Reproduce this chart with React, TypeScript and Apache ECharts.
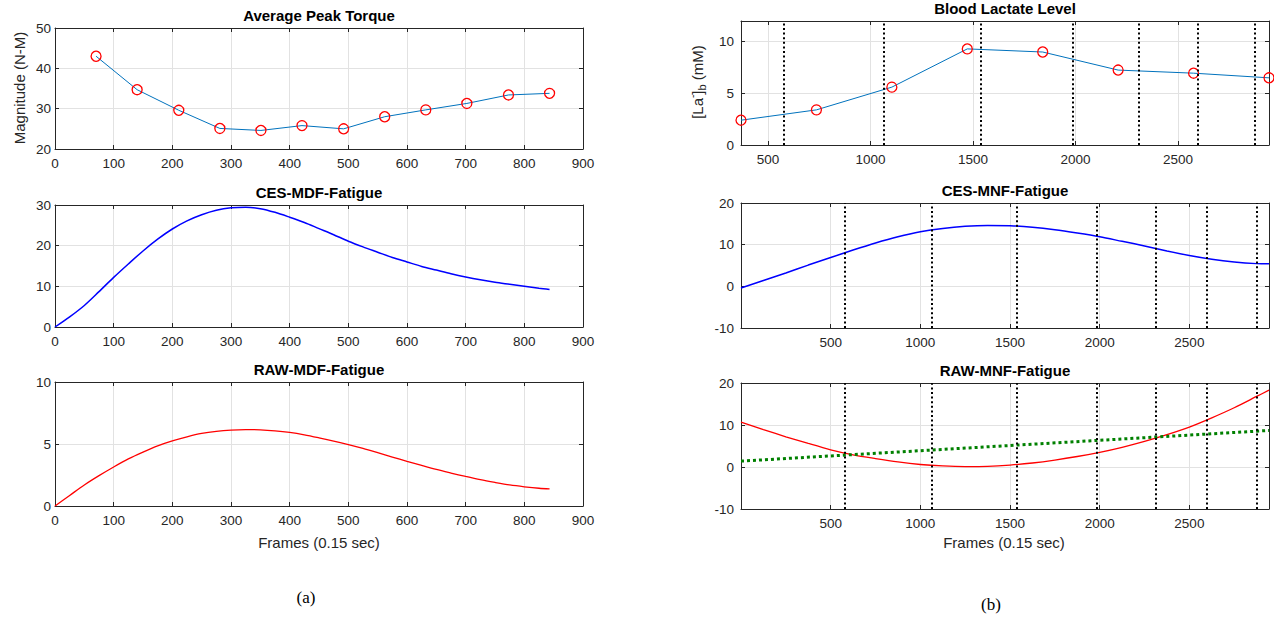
import React, { useEffect, useRef } from 'react';
import * as echarts from 'echarts';

// ---------- data ----------
const torqueX = [70, 140, 211, 281, 351, 421, 492, 562, 632, 702, 773, 843];
const torqueY = [43.0, 34.7, 29.6, 25.1, 24.6, 25.8, 25.0, 28.0, 29.7, 31.3, 33.4, 33.8];

const mdfX = [0, 25, 50, 75, 100, 125, 150, 175, 200, 225, 250, 275, 300, 325, 350, 375, 400, 425, 450, 475, 500,
  525, 550, 575, 600, 625, 650, 675, 700, 725, 750, 775, 800, 825, 843];
const cesMdfY = [0, 2.5, 5.3, 8.7, 12.2, 15.5, 18.7, 21.6, 24.1, 26.1, 27.6, 28.7, 29.3, 29.45, 29.1, 28.2, 27.0, 25.7,
  24.2, 22.7, 21.1, 19.7, 18.4, 17.1, 16.0, 14.9, 14.0, 13.1, 12.3, 11.6, 11.0, 10.5, 10.0, 9.5, 9.2];
const rawMdfY = [0, 0.85, 1.7, 2.45, 3.15, 3.8, 4.35, 4.85, 5.25, 5.58, 5.85, 6.02, 6.12, 6.16, 6.14, 6.06, 5.93, 5.74,
  5.5, 5.24, 4.95, 4.64, 4.3, 3.95, 3.6, 3.27, 2.95, 2.66, 2.38, 2.12, 1.9, 1.7, 1.55, 1.43, 1.38];

const lactateX = [368, 736, 1104, 1472, 1840, 2208, 2576, 2944];
const lactateY = [2.4, 3.4, 5.6, 9.3, 9.0, 7.25, 6.95, 6.5];

const mnfX = [0, 125, 250, 375, 500, 625, 750, 875, 1000, 1125, 1250, 1375, 1500, 1625, 1750, 1875, 2000, 2125, 2250,
  2375, 2500, 2625, 2750, 2875, 2944];
const cesMnfY = [-0.4, 1.4, 3.2, 5.1, 6.9, 8.7, 10.4, 11.9, 13.1, 13.9, 14.4, 14.6, 14.55, 14.2, 13.6, 12.8, 11.9, 10.8,
  9.7, 8.5, 7.4, 6.5, 5.85, 5.45, 5.4];
const rawMnfY = [10.7, 8.9, 7.2, 5.6, 4.1, 2.9, 2.0, 1.2, 0.6, 0.25, 0.1, 0.15, 0.45, 0.95, 1.65, 2.5, 3.5, 4.7, 6.1,
  7.7, 9.5, 11.7, 14.1, 16.8, 18.3];
const trendX = [0, 2944];
const trendY = [1.4, 8.7];

const boundaryX = [578, 1064, 1540, 1986, 2310, 2596, 2873];

const titles = ['Average Peak Torque', 'CES-MDF-Fatigue', 'RAW-MDF-Fatigue', 'Blood Lactate Level', 'CES-MNF-Fatigue', 'RAW-MNF-Fatigue'];
const xName = 'Frames (0.15 sec)';
const leftYName = 'Magnitude (N-M)';

// ---------- helpers ----------
const FONT = "'Liberation Sans', Arial, Helvetica, sans-serif";
const AX = '#262626';
const GRIDC = '#e2e2e2';

const zip = (xs: number[], ys: number[]) => xs.map((x, i) => [x, ys[i]]);

const grids = [
  { left: 55, top: 28, width: 528, height: 121 },
  { left: 55, top: 205, width: 528, height: 122 },
  { left: 55, top: 382, width: 528, height: 124 },
  { left: 741, top: 21, width: 528, height: 124 },
  { left: 741, top: 203, width: 528, height: 125 },
  { left: 741, top: 383, width: 528, height: 126 },
];

const xSpec: any[] = [
  { min: 0, max: 900, interval: 100 },
  { min: 0, max: 900, interval: 100 },
  { min: 0, max: 900, interval: 100 },
  { min: 368, max: 2944, splitNumber: 5 },
  { min: 0, max: 2944, interval: 500 },
  { min: 0, max: 2944, interval: 500 },
];
const ySpec: any[] = [
  { min: 20, max: 50, interval: 10 },
  { min: 0, max: 30, interval: 10 },
  { min: 0, max: 10, interval: 5 },
  { min: 0, max: 12, interval: 5 },
  { min: -10, max: 20, interval: 10 },
  { min: -10, max: 20, interval: 10 },
];

const rightFmt = (v: number) => (v > 0 && v < 2944 && v % 500 === 0 ? String(v) : '');

export default function App() {
  const ref = useRef<HTMLDivElement>(null);
  useEffect(() => {
    if (!ref.current) return;
    const chart = echarts.init(ref.current, undefined, { renderer: 'svg' });

    const xAxes: any[] = [];
    const yAxes: any[] = [];
    grids.forEach((g, i) => {
      const right = i >= 3;
      xAxes.push({
        type: 'value', gridIndex: i, position: 'bottom', ...xSpec[i],
        axisLine: { show: true, onZero: false, lineStyle: { color: AX, width: 1 } },
        axisTick: { show: true, inside: true, length: 4, lineStyle: { color: AX } },
        splitLine: { show: true, lineStyle: { color: GRIDC, width: 1 } },
        axisLabel: {
          color: AX, fontSize: 13.5, fontFamily: FONT, margin: 7,
          formatter: right ? rightFmt : (v: number) => String(v),
        },
      });
      yAxes.push({
        type: 'value', gridIndex: i, position: 'left', ...ySpec[i],
        axisLine: { show: true, onZero: false, lineStyle: { color: AX, width: 1 } },
        axisTick: { show: true, inside: true, length: 4, lineStyle: { color: AX } },
        splitLine: { show: true, lineStyle: { color: GRIDC, width: 1 } },
        axisLabel: {
          color: AX, fontSize: 13.5, fontFamily: FONT, margin: right ? 7 : 4,
          showMaxLabel: i === 3 ? false : true,
          formatter: (v: number) => (i === 3 && v > 10 ? '' : String(v)),
        },
      });
    });
    grids.forEach((g, i) => {
      xAxes.push({
        type: 'value', gridIndex: i, position: 'top', ...xSpec[i],
        axisLine: { show: true, onZero: false, lineStyle: { color: AX, width: 1 } },
        axisTick: { show: true, inside: true, length: 4, lineStyle: { color: AX } },
        splitLine: { show: false }, axisLabel: { show: false },
      });
      yAxes.push({
        type: 'value', gridIndex: i, position: 'right', ...ySpec[i],
        axisLine: { show: true, onZero: false, lineStyle: { color: AX, width: 1 } },
        axisTick: { show: true, inside: true, length: 4, lineStyle: { color: AX } },
        splitLine: { show: false }, axisLabel: { show: false },
      });
    });

    const markLine = {
      silent: true,
      symbol: ['none', 'none'],
      label: { show: false },
      lineStyle: { color: '#000', type: [2, 2.6], width: 2 },
      emphasis: { disabled: true },
      data: boundaryX.map((x) => ({ xAxis: x })),
    };

    const markerStyle = { color: 'rgba(0,0,0,0)', borderColor: '#ff0000', borderWidth: 1.3 };

    const series: any[] = [
      {
        type: 'line', xAxisIndex: 0, yAxisIndex: 0, data: zip(torqueX, torqueY),
        lineStyle: { color: '#0072BD', width: 1 }, symbol: 'circle', symbolSize: 10,
        itemStyle: markerStyle, z: 3,
      },
      {
        type: 'line', xAxisIndex: 1, yAxisIndex: 1, data: zip(mdfX, cesMdfY), smooth: 0.3,
        lineStyle: { color: '#0000ff', width: 1.5 }, symbol: 'none',
      },
      {
        type: 'line', xAxisIndex: 2, yAxisIndex: 2, data: zip(mdfX, rawMdfY), smooth: 0.3,
        lineStyle: { color: '#ff0000', width: 1.3 }, symbol: 'none',
      },
      {
        type: 'line', xAxisIndex: 3, yAxisIndex: 3, data: zip(lactateX, lactateY),
        lineStyle: { color: '#0072BD', width: 1 }, symbol: 'circle', symbolSize: 10,
        itemStyle: markerStyle, z: 3, markLine,
      },
      {
        type: 'line', xAxisIndex: 4, yAxisIndex: 4, data: zip(mnfX, cesMnfY), smooth: 0.3,
        lineStyle: { color: '#0000ff', width: 1.5 }, symbol: 'none', markLine,
      },
      {
        type: 'line', xAxisIndex: 5, yAxisIndex: 5, data: zip(mnfX, rawMnfY), smooth: 0.3,
        lineStyle: { color: '#ff0000', width: 1.3 }, symbol: 'none', markLine,
      },
      {
        type: 'line', xAxisIndex: 5, yAxisIndex: 5, data: zip(trendX, trendY),
        lineStyle: { color: '#008000', width: 3, type: [3, 3] }, symbol: 'none',
      },
    ];

    const graphic: any[] = [];
    grids.forEach((g, i) => {
      graphic.push({
        type: 'text', x: g.left + g.width / 2, y: g.top - 13,
        style: {
          text: titles[i], font: `bold 15px ${FONT}`, fill: '#000',
          textAlign: 'center', textVerticalAlign: 'middle',
        },
      });
    });
    graphic.push({
      type: 'text', x: 19.5, y: 88, rotation: Math.PI / 2,
      style: { text: leftYName, font: `15px ${FONT}`, fill: AX, textAlign: 'center', textVerticalAlign: 'middle' },
    });
    graphic.push({
      type: 'text', x: 697, y: 82, rotation: Math.PI / 2,
      style: {
        text: '{n|[La}{sup|-}{n|]}{sub|b}{n| (mM)}',
        textAlign: 'center', textVerticalAlign: 'middle',
        rich: {
          n: { fontSize: 15, fontFamily: FONT, fill: AX, color: AX },
          sup: { fontSize: 10, fontFamily: FONT, fill: AX, color: AX, padding: [0, 0, 9, 0] },
          sub: { fontSize: 11, fontFamily: FONT, fill: AX, color: AX, padding: [9, 0, 0, 0] },
        },
      },
    });
    graphic.push({
      type: 'text', x: 319, y: 542,
      style: { text: xName, font: `15px ${FONT}`, fill: AX, textAlign: 'center', textVerticalAlign: 'middle' },
    });
    graphic.push({
      type: 'text', x: 1004, y: 542,
      style: { text: xName, font: `15px ${FONT}`, fill: AX, textAlign: 'center', textVerticalAlign: 'middle' },
    });
    graphic.push({
      type: 'text', x: 306, y: 597,
      style: { text: '(a)', font: `17px 'Liberation Serif', 'Times New Roman', serif`, fill: '#000', textAlign: 'center', textVerticalAlign: 'middle' },
    });
    graphic.push({
      type: 'text', x: 991, y: 604,
      style: { text: '(b)', font: `17px 'Liberation Serif', 'Times New Roman', serif`, fill: '#000', textAlign: 'center', textVerticalAlign: 'middle' },
    });

    chart.setOption({
      animation: false,
      backgroundColor: '#ffffff',
      grid: grids.map((g) => ({ ...g, containLabel: false })),
      xAxis: xAxes,
      yAxis: yAxes,
      series,
      graphic,
    });
    return () => chart.dispose();
  }, []);
  return <div ref={ref} style={{ position: 'fixed', left: 0, top: 0, width: 1274, height: 617 }} />;
}
